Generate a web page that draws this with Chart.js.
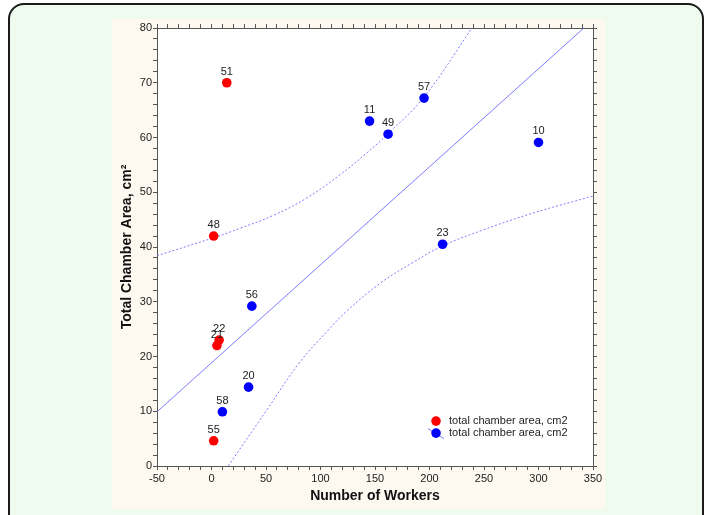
<!DOCTYPE html>
<html>
<head>
<meta charset="utf-8">
<script src="https://cdn.jsdelivr.net/npm/chart.js@4"></script>
<style>
  body { margin: 0; background: #ffffff; }
  .panel {
    position: absolute; left: 8px; top: 3px; width: 696px; height: 540px;
    box-sizing: border-box; border: 2px solid #1a1a1a; border-radius: 16px;
    background: #eefbee;
  }
  .plot { position: absolute; left: 112px; top: 19px; width: 493px; height: 490px; }
</style>
</head>
<body>
<div class="panel"></div>
<div class="plot"><canvas id="workers-area" width="493" height="490"></canvas></div>
<script>
// colonies with red markers
const redIds = ["51", "48", "22", "21", "55"];
const redX = [14, 2, 7, 5, 2];
const redY = [70, 42, 23, 22, 4.6];

// colonies with blue markers
const blueIds = ["57", "11", "49", "10", "23", "56", "20", "58"];
const blueX = [195, 145, 162, 300, 212, 37, 34, 10];
const blueY = [67.2, 63, 60.6, 59.1, 40.5, 29.2, 14.4, 9.9];

// fitted line and its confidence band
const fitX = [-50, 341.6];
const fitY = [9.9, 80];
const upperX = [-50, 2, 26, 57, 87, 118, 142, 161, 195, 239];
const upperY = [38.4, 41.7, 43.4, 45.8, 48.9, 53.2, 57.1, 60.5, 67.4, 80];
const lowerX = [15.4, 50.6, 81.2, 107, 124, 155, 185, 212, 249, 295, 350];
const lowerY = [0, 10.2, 19.0, 24.8, 28.3, 33.4, 37.2, 40.2, 43.1, 46.2, 49.3];

const xTicks = [-50, 0, 50, 100, 150, 200, 250, 300, 350];
const yTicks = [0, 10, 20, 30, 40, 50, 60, 70, 80];

const FONT = "Arial, 'Liberation Sans', sans-serif";
const LINE_BLUE = "rgba(110, 110, 255, 0.9)";
const LEGEND_TEXT = "total chamber area, cm2";

const toPoints = (xs, ys) => xs.map((x, i) => ({ x: x, y: ys[i] }));

// cream page behind the axes, white plot area
const backgroundPlugin = {
  id: "background",
  beforeDraw(chart) {
    const { ctx, chartArea } = chart;
    ctx.save();
    ctx.fillStyle = "#fdf8f0";
    ctx.fillRect(0, 0, chart.width, chart.height);
    ctx.fillStyle = "#ffffff";
    ctx.fillRect(chartArea.left, chartArea.top, chartArea.right - chartArea.left, chartArea.bottom - chartArea.top);
    ctx.restore();
  },
};

// colony numbers above each marker
const pointLabelPlugin = {
  id: "pointLabels",
  afterDatasetsDraw(chart) {
    const ctx = chart.ctx;
    ctx.save();
    ctx.font = "11px " + FONT;
    ctx.fillStyle = "#222";
    ctx.textAlign = "center";
    ctx.textBaseline = "middle";
    chart.data.datasets.forEach((ds, di) => {
      if (!ds.ids) return;
      chart.getDatasetMeta(di).data.forEach((el, i) => {
        ctx.fillText(ds.ids[i], el.x, el.y - 11);
      });
    });
    ctx.restore();
  },
};

// small legend inside the plot, bottom right
const legendPlugin = {
  id: "insideLegend",
  afterDraw(chart) {
    const ctx = chart.ctx;
    const x = chart.scales.x;
    const y = chart.scales.y;
    const px = x.getPixelForValue(206);
    const py = y.getPixelForValue(8.2);
    ctx.save();
    ctx.fillStyle = "#ff0000";
    ctx.beginPath();
    ctx.arc(px, py, 4.8, 0, Math.PI * 2);
    ctx.fill();
    ctx.strokeStyle = LINE_BLUE;
    ctx.lineWidth = 1;
    ctx.beginPath();
    ctx.moveTo(px - 8, py + 7.5);
    ctx.lineTo(px + 8, py + 17.5);
    ctx.stroke();
    ctx.fillStyle = "#0000ff";
    ctx.beginPath();
    ctx.arc(px, py + 12, 4.8, 0, Math.PI * 2);
    ctx.fill();
    ctx.font = "11px " + FONT;
    ctx.fillStyle = "#222";
    ctx.textBaseline = "middle";
    ctx.fillText(LEGEND_TEXT, px + 13, py);
    ctx.fillText(LEGEND_TEXT, px + 13, py + 12);
    ctx.restore();
  },
};

const tickGrid = {
  drawOnChartArea: false,
  drawTicks: true,
  tickLength: 4,
  color: "#555",
};

const ctx = document.getElementById("workers-area").getContext("2d");

new Chart(ctx, {
  type: "scatter",
  data: {
    datasets: [
      {
        label: "red",
        ids: redIds,
        data: toPoints(redX, redY),
        backgroundColor: "#ff0000",
        borderWidth: 0,
        pointRadius: 4.8,
        order: 0,
      },
      {
        label: "blue",
        ids: blueIds,
        data: toPoints(blueX, blueY),
        backgroundColor: "#0000ff",
        borderWidth: 0,
        pointRadius: 4.8,
        order: 0,
      },
      {
        label: "fit",
        data: toPoints(fitX, fitY),
        showLine: true,
        borderColor: LINE_BLUE,
        borderWidth: 1,
        pointRadius: 0,
        order: 1,
      },
      {
        label: "upper",
        data: toPoints(upperX, upperY),
        showLine: true,
        tension: 0.4,
        borderColor: LINE_BLUE,
        borderWidth: 1,
        borderDash: [2, 2],
        pointRadius: 0,
        order: 1,
      },
      {
        label: "lower",
        data: toPoints(lowerX, lowerY),
        showLine: true,
        tension: 0.4,
        borderColor: LINE_BLUE,
        borderWidth: 1,
        borderDash: [2, 2],
        pointRadius: 0,
        order: 1,
      },
    ],
  },
  options: {
    responsive: false,
    animation: false,
    devicePixelRatio: 1,
    layout: { padding: 0 },
    plugins: {
      legend: { display: false },
      tooltip: { enabled: false },
    },
    scales: {
      x: {
        type: "linear",
        position: "bottom",
        min: -50,
        max: 350,
        afterFit: (scale) => { scale.height = 43; },
        ticks: {
          stepSize: 10,
          autoSkip: false,
          maxRotation: 0,
          padding: 2,
          color: "#222",
          font: { family: FONT, size: 11 },
          callback: (v) => (xTicks.includes(v) ? v : ""),
        },
        grid: tickGrid,
        border: { color: "#555", width: 1 },
        title: {
          display: true,
          text: "Number of Workers",
          color: "#111",
          font: { family: FONT, size: 14, weight: "bold" },
          padding: { top: 0, bottom: 4 },
        },
      },
      y: {
        type: "linear",
        position: "left",
        min: 0,
        max: 80,
        afterFit: (scale) => { scale.width = 45; },
        ticks: {
          stepSize: 2,
          autoSkip: false,
          padding: 1,
          color: "#222",
          font: { family: FONT, size: 11 },
          callback: (v) => (yTicks.includes(v) ? v : ""),
        },
        grid: tickGrid,
        border: { color: "#555", width: 1 },
        title: {
          display: true,
          text: "Total Chamber Area, cm²",
          color: "#111",
          font: { family: FONT, size: 14, weight: "bold" },
          padding: { top: 7, bottom: 0 },
        },
      },
      x2: {
        type: "linear",
        position: "top",
        min: -50,
        max: 350,
        afterFit: (scale) => { scale.height = 9; },
        ticks: { display: false, stepSize: 10, autoSkip: false },
        grid: tickGrid,
        border: { color: "#555", width: 1 },
      },
      y2: {
        type: "linear",
        position: "right",
        min: 0,
        max: 80,
        afterFit: (scale) => { scale.width = 12; },
        ticks: { display: false, stepSize: 2, autoSkip: false },
        grid: tickGrid,
        border: { color: "#555", width: 1 },
      },
    },
  },
  plugins: [backgroundPlugin, pointLabelPlugin, legendPlugin],
});
</script>
</body>
</html>
